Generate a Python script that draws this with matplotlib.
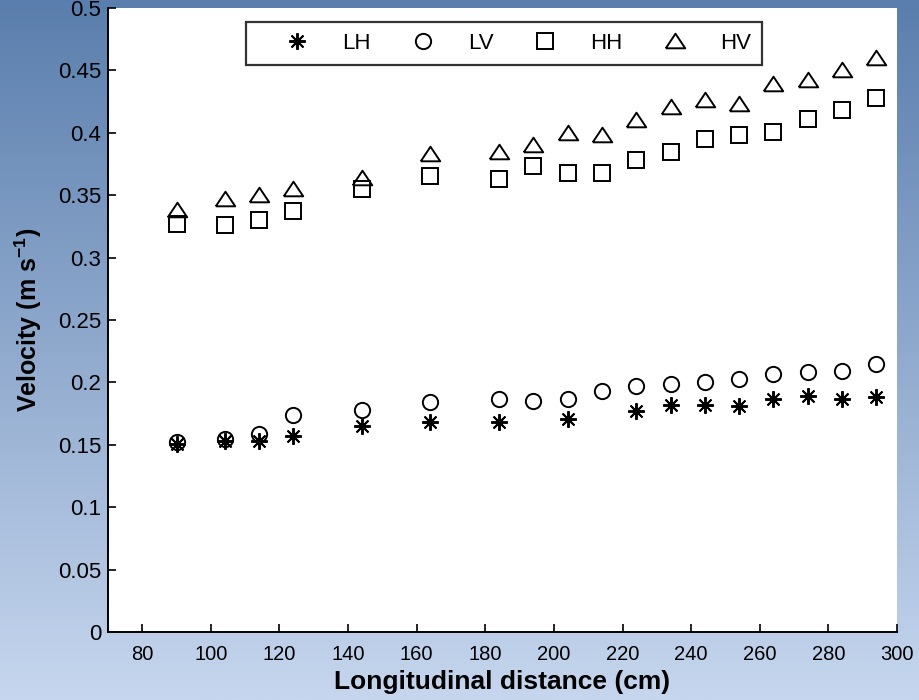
import numpy as np
import matplotlib
matplotlib.use("Agg")
import matplotlib.pyplot as plt

plt.rcParams['font.family'] = ['Liberation Sans', 'DejaVu Sans']
plt.rcParams['mathtext.fontset'] = 'custom'
plt.rcParams['mathtext.bf'] = 'Liberation Sans:bold'
plt.rcParams['mathtext.rm'] = 'Liberation Sans'

# longitudinal positions (cm)
x_all = [90, 104, 114, 124, 144, 164, 184, 194, 204, 214, 224, 234, 244, 254, 264, 274, 284, 294]
x_lh = [90, 104, 114, 124, 144, 164, 184, 204, 224, 234, 244, 254, 264, 274, 284, 294]

lh = [0.151, 0.153, 0.153, 0.157, 0.165, 0.168, 0.168, 0.171, 0.177, 0.182, 0.182, 0.181,
      0.187, 0.189, 0.187, 0.188]
lv = [0.152, 0.155, 0.159, 0.174, 0.178, 0.184, 0.187, 0.185, 0.187, 0.193, 0.197, 0.199,
      0.200, 0.203, 0.207, 0.208, 0.209, 0.215]
hh = [0.327, 0.326, 0.330, 0.337, 0.355, 0.365, 0.363, 0.373, 0.368, 0.368, 0.378, 0.385,
      0.395, 0.398, 0.401, 0.411, 0.418, 0.428]
hv = [0.338, 0.347, 0.350, 0.355, 0.364, 0.383, 0.385, 0.390, 0.400, 0.398, 0.410, 0.421,
      0.426, 0.423, 0.439, 0.442, 0.450, 0.460]

xticks = list(range(80, 301, 20))
yticks = [0, 0.05, 0.1, 0.15, 0.2, 0.25, 0.3, 0.35, 0.4, 0.45, 0.5]
ytick_labels = ['0', '0.05', '0.1', '0.15', '0.2', '0.25', '0.3', '0.35', '0.4', '0.45', '0.5']

fig = plt.figure(figsize=(9.19, 7), dpi=100)

# gradient background
bg = fig.add_axes([0, 0, 1, 1], zorder=-10)
grad = np.linspace(0, 1, 256).reshape(-1, 1)
top = np.array([0x5a, 0x7e, 0xad]) / 255
bot = np.array([0xc6, 0xd6, 0xee]) / 255
img = top + (bot - top) * grad[:, :, None]
bg.imshow(img, aspect='auto', extent=[0, 1, 0, 1])
bg.axis('off')

ax = fig.add_axes([0.1175, 0.0971, 0.976 - 0.1175, 0.9886 - 0.0971])
ax.set_facecolor('white')

# wide, flat triangle like the original
tri = [(-1, -0.7), (1, -0.7), (0, 0.8), (-1, -0.7)]

ax.plot(x_lh, lh, linestyle='none', marker=(8, 2, 0), ms=12, mec='black', mew=1.4, label='LH')
ax.plot(x_all, lv, linestyle='none', marker='o', ms=11, mfc='none', mec='black', mew=1.4, label='LV')
ax.plot(x_all, hh, linestyle='none', marker='s', ms=11, mfc='none', mec='black', mew=1.4, label='HH')
ax.plot(x_all, hv, linestyle='none', marker=tri, ms=14, mfc='none', mec='black', mew=1.4, label='HV')

ax.set_xlim(70, 300)
ax.set_ylim(0, 0.5)
ax.set_xticks(xticks)
ax.set_yticks(yticks)
ax.set_yticklabels(ytick_labels)
ax.tick_params(direction='in', length=5.8, width=1.2, colors='black')
ax.tick_params(axis='x', labelsize=14.5, pad=9)
ax.tick_params(axis='y', labelsize=16, pad=5)
ax.spines['top'].set_visible(False)
ax.spines['right'].set_visible(False)
ax.spines['left'].set_linewidth(1.4)
ax.spines['bottom'].set_linewidth(1.4)

ax.set_xlabel('Longitudinal distance (cm)', fontsize=19, fontweight='bold', labelpad=5)
ax.set_ylabel(r'Velocity (m s$^{\mathbf{-1}}$)', fontsize=18, fontweight='bold', labelpad=10)

leg = ax.legend(loc='upper center', bbox_to_anchor=(0.502, 0.9776), ncol=4, frameon=True,
                fancybox=False, edgecolor='black', fontsize=16, handletextpad=0.23,
                columnspacing=0.54, borderpad=0.5, handlelength=3.6, borderaxespad=0)
leg.get_frame().set_linewidth(1.6)

fig.savefig('out.png', dpi=100)
